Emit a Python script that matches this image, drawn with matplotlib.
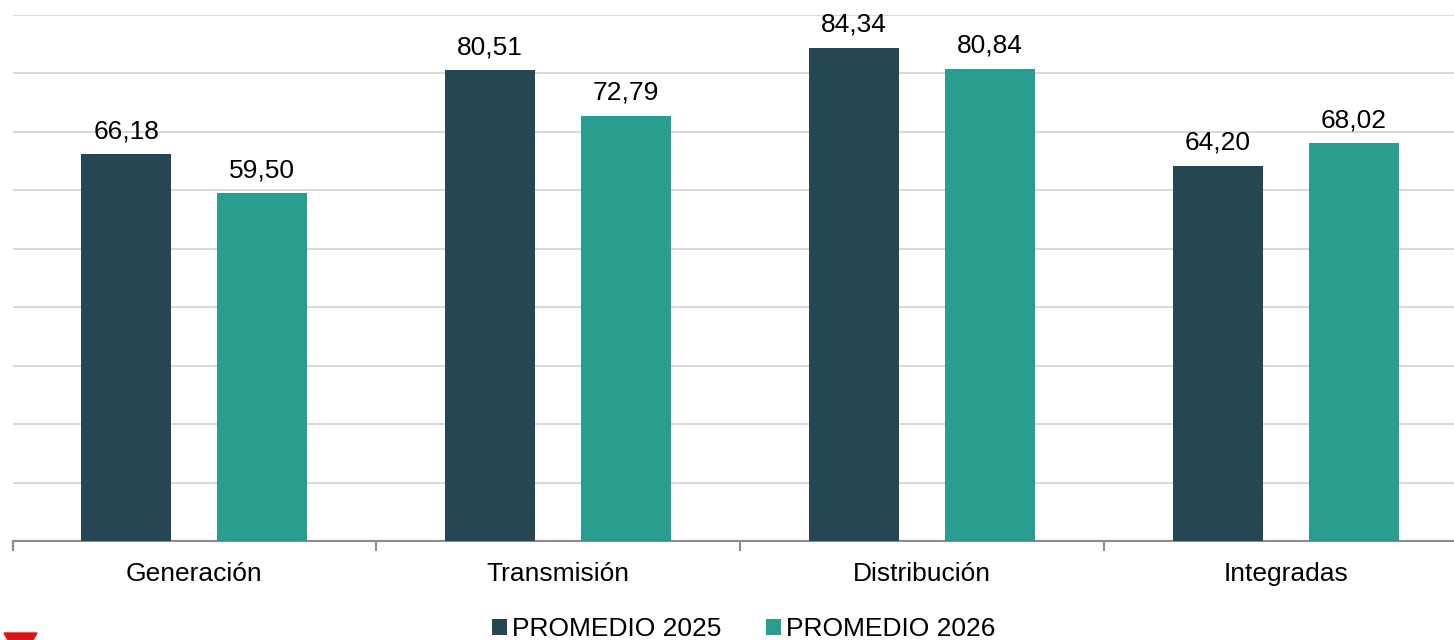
import matplotlib
matplotlib.use("Agg")
import matplotlib.pyplot as plt
import numpy as np
from matplotlib.patches import Polygon

categories = ["Generación", "Transmisión", "Distribución", "Integradas"]
prom_2025 = [66.18, 80.51, 84.34, 64.20]
prom_2026 = [59.50, 72.79, 80.84, 68.02]
series_names = ["PROMEDIO 2025", "PROMEDIO 2026"]
colors = ["#264653", "#2A9D8F"]

plt.rcParams['font.family'] = ['Liberation Sans', 'DejaVu Sans']

W, H = 1454, 640
CW = 363.8  # category width in px
fig = plt.figure(figsize=(W / 100, H / 100), dpi=100)
ax = fig.add_axes([12.5 / W, 1 - 541 / H, 4 * CW / W, (541 - 15) / H])
ax.set_clip_on(False)

x = np.arange(len(categories))
bw = 90 / CW
off = 68 / CW
for vals, dx, c, name in [(prom_2025, -off, colors[0], series_names[0]),
                          (prom_2026, off, colors[1], series_names[1])]:
    bars = ax.bar(x + dx, vals, width=bw, color=c, label=name, zorder=3)
    for b, v in zip(bars, vals):
        ax.annotate(f"{v:.2f}".replace(".", ","), (b.get_x() + b.get_width() / 2, v),
                    xytext=(0, 8), textcoords="offset points",
                    ha="center", va="bottom", fontsize=19, color="#000000")

ax.set_ylim(0, 90)
ax.set_xlim(-0.5, 3.5)
ax.set_yticks(np.arange(0, 91, 10))
ax.yaxis.grid(True, color="#d9d9d9", linewidth=1.5, zorder=0)
ax.tick_params(axis="y", length=0, labelleft=False)
for s in ["top", "right", "left"]:
    ax.spines[s].set_visible(False)
ax.spines["bottom"].set_color("#8c8c8c")
ax.spines["bottom"].set_linewidth(1.5)

ax.set_xticks(x)
ax.set_xticklabels(categories, fontsize=19)
ax.tick_params(axis="x", length=0, pad=15)
ax.set_xticks(np.arange(len(categories) + 1) - 0.5, minor=True)
ax.tick_params(axis="x", which="minor", length=7, width=1.5, color="#8c8c8c")

leg = fig.legend(loc="center", bbox_to_anchor=(744 / W, 1 - 629 / H), ncol=2,
                 frameon=False, fontsize=19, handlelength=0.55, handleheight=0.55,
                 handletextpad=0.2, columnspacing=1.7)

fig.patches.append(Polygon([[4 / W, 1 - 633 / H], [37 / W, 1 - 633 / H],
                            [33 / W, 0], [8 / W, 0]], closed=True,
                           transform=fig.transFigure, color="#d7141a"))

fig.savefig("out.png", dpi=100)
